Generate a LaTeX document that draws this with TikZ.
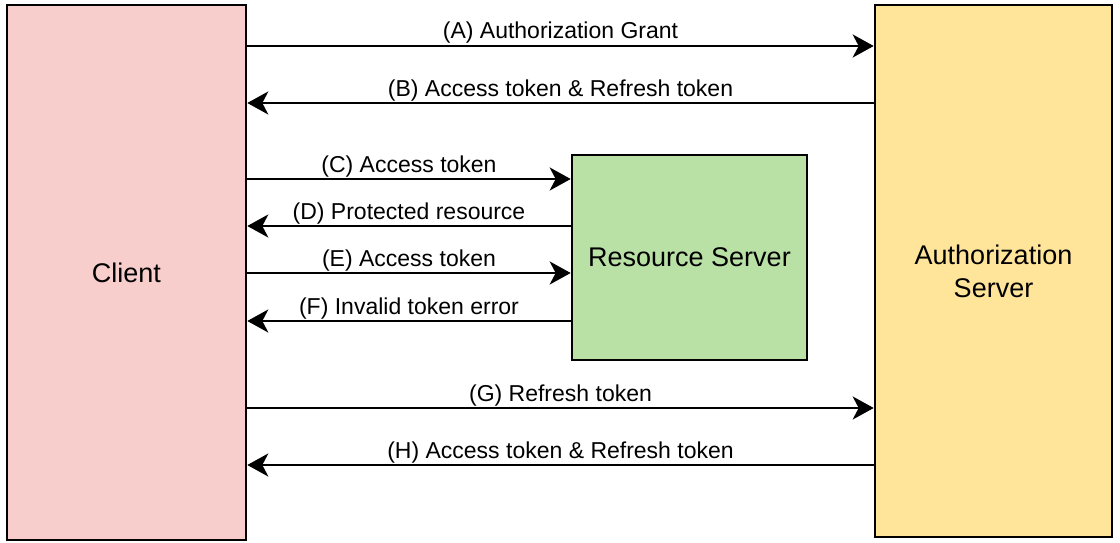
\documentclass[tikz,border=0pt]{standalone}
\usepackage{fontspec}
\setmainfont{Liberation Sans}
\usetikzlibrary{arrows.meta}

\definecolor{clientpink}{HTML}{F8CECC}
\definecolor{authyellow}{HTML}{FFE599}
\definecolor{resgreen}{HTML}{B9E0A5}

\tikzset{
    party/.style={draw=black, line width=2.6pt, inner sep=0pt, align=center,
        font=\fontsize{27}{33}\selectfont},
    flow/.style={line width=2.6pt, -{Stealth[length=21pt, width=23pt, inset=6pt]}},
    msg/.style={anchor=base, yshift=7pt, inner sep=0pt, font=\fontsize{23}{27}\selectfont}
}

\begin{document}
\begin{tikzpicture}[x=1pt,y=-1pt]

    \useasboundingbox (0,0) rectangle (1120,543);

    % the three parties
    \node[party, fill=clientpink, minimum width=239pt, minimum height=535pt] (client) at (126.5,272.5) {Client};
    \node[party, fill=authyellow, minimum width=237pt, minimum height=532pt] (auth) at (993.5,271) {Authorization\\Server};
    \node[party, fill=resgreen, minimum width=235pt, minimum height=205pt] (rs) at (689.5,257.5) {Resource Server};

    % requests from the client
    \foreach \y/\dst/\txt in {46/auth/{(A) Authorization Grant},
                              179/rs/{(C) Access token},
                              273/rs/{(E) Access token},
                              408/auth/{(G) Refresh token}}
        \draw[flow] (client.east |- 0,\y) -- node[msg] {\txt} (\dst.west |- 0,\y);

    % answers back to the client
    \foreach \y/\src/\txt in {103/auth/{(B) Access token \& Refresh token},
                              226/rs/{(D) Protected resource},
                              321/rs/{(F) Invalid token error},
                              465/auth/{(H) Access token \& Refresh token}}
        \draw[flow] (\src.west |- 0,\y) -- node[msg] {\txt} (client.east |- 0,\y);

\end{tikzpicture}
\end{document}
